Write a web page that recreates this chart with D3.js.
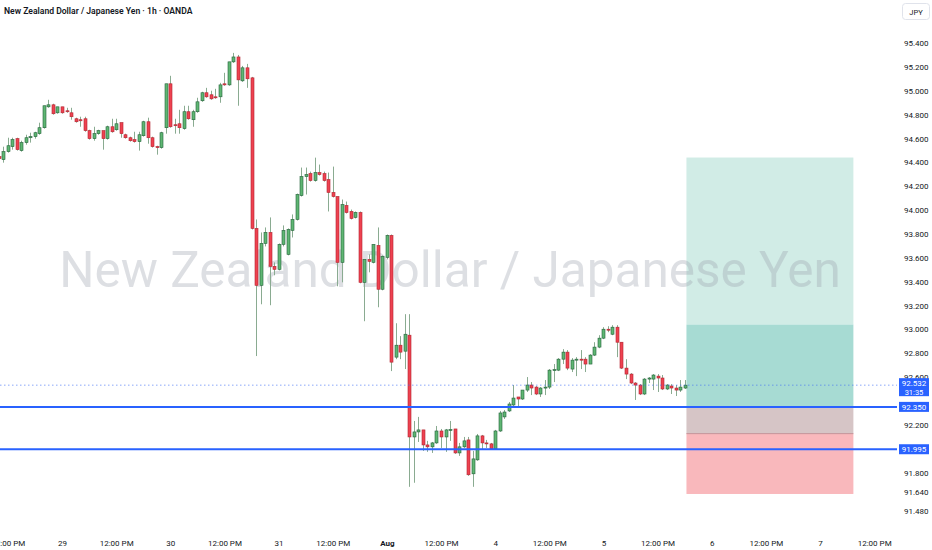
<!DOCTYPE html>
<html>
<head>
<meta charset="utf-8">
<script src="https://cdn.jsdelivr.net/npm/d3@7"></script>
<style>
  body { margin: 0; background: #fff; }
  svg { display: block; font-family: Roboto, "Noto Sans", sans-serif; }
</style>
</head>
<body>
<div id="chart"></div>
<script>
// hourly bars, hour index counted from Jul 28 00:00 (weekend skipped)
const firstHour = 10;

const opens = [
  94.447, 94.422, 94.489, 94.531, 94.598, 94.498, 94.565, 94.606, 94.615, 94.640,
  94.690, 94.865, 94.882, 94.815, 94.865, 94.832, 94.815, 94.765, 94.757, 94.765,
  94.665, 94.598, 94.640, 94.665, 94.598, 94.698, 94.673, 94.732, 94.631, 94.606,
  94.590, 94.573, 94.623, 94.740, 94.606, 94.531, 94.523, 94.690, 95.058, 94.715,
  94.723, 94.682, 94.824, 94.757, 94.824, 94.916, 94.983, 94.966, 94.949, 94.949,
  95.058, 95.049, 95.242, 95.283, 95.083, 95.192, 95.108, 93.846, 93.369, 93.720,
  93.812, 93.528, 93.503, 93.712, 93.628, 93.829, 93.921, 94.121, 94.280, 94.305,
  94.247, 94.314, 94.305, 94.255, 94.147, 94.113, 93.561, 94.038, 93.988, 93.938,
  93.979, 93.394, 93.586, 93.561, 93.703, 93.336, 93.603, 93.787, 92.767, 92.867,
  92.817, 92.951, 92.098, 92.140, 92.157, 92.031, 92.015, 92.048, 92.148, 92.098,
  92.157, 92.165, 91.964, 92.015, 92.073, 91.789, 91.906, 92.107, 92.048, 92.040,
  91.998, 92.148, 92.266, 92.316, 92.366, 92.433, 92.416, 92.491, 92.533, 92.516,
  92.458, 92.508, 92.516, 92.658, 92.658, 92.750, 92.809, 92.667, 92.742, 92.750,
  92.750, 92.709, 92.784, 92.851, 92.926, 93.001, 92.959, 93.018, 92.892, 92.675,
  92.625, 92.550, 92.533, 92.458, 92.583, 92.583, 92.608, 92.592, 92.500, 92.525,
  92.508, 92.491, 92.508
];
const highs = [
  94.464, 94.531, 94.606, 94.606, 94.606, 94.581, 94.631, 94.648, 94.656, 94.732,
  94.874, 94.924, 94.891, 94.865, 94.865, 94.857, 94.857, 94.774, 94.782, 94.782,
  94.673, 94.698, 94.673, 94.665, 94.707, 94.765, 94.765, 94.732, 94.640, 94.615,
  94.656, 94.656, 94.748, 94.774, 94.615, 94.539, 94.656, 95.058, 95.125, 94.765,
  94.840, 94.874, 94.874, 94.840, 94.941, 94.991, 95.024, 95.000, 95.016, 95.066,
  95.150, 95.242, 95.317, 95.300, 95.208, 95.225, 95.116, 93.921, 93.812, 93.854,
  93.938, 93.561, 93.720, 93.871, 93.846, 93.963, 94.138, 94.356, 94.356, 94.322,
  94.439, 94.381, 94.322, 94.314, 94.364, 94.113, 94.088, 94.071, 94.004, 93.988,
  93.988, 93.586, 93.628, 93.712, 93.854, 93.620, 93.795, 93.795, 93.051, 92.943,
  93.127, 93.127, 92.232, 92.266, 92.157, 92.065, 92.056, 92.190, 92.165, 92.165,
  92.232, 92.165, 92.048, 92.098, 92.098, 91.981, 92.123, 92.115, 92.073, 92.048,
  92.157, 92.316, 92.324, 92.391, 92.533, 92.433, 92.491, 92.600, 92.558, 92.525,
  92.516, 92.575, 92.667, 92.709, 92.759, 92.834, 92.826, 92.759, 92.767, 92.826,
  92.767, 92.792, 92.892, 92.951, 93.018, 93.026, 93.035, 93.035, 92.892, 92.750,
  92.633, 92.558, 92.541, 92.592, 92.600, 92.625, 92.625, 92.617, 92.541, 92.541,
  92.533, 92.575, 92.575
];
const lows = [
  94.414, 94.397, 94.481, 94.506, 94.498, 94.489, 94.548, 94.565, 94.598, 94.631,
  94.682, 94.857, 94.799, 94.807, 94.807, 94.815, 94.757, 94.732, 94.698, 94.656,
  94.590, 94.581, 94.631, 94.506, 94.590, 94.648, 94.665, 94.606, 94.598, 94.573,
  94.565, 94.498, 94.615, 94.556, 94.523, 94.464, 94.514, 94.640, 94.690, 94.640,
  94.640, 94.673, 94.757, 94.698, 94.815, 94.907, 94.941, 94.924, 94.932, 94.899,
  95.041, 95.041, 95.233, 94.874, 95.074, 95.024, 93.837, 92.776, 93.210, 93.695,
  93.202, 93.453, 93.494, 93.695, 93.620, 93.770, 93.912, 94.113, 94.130, 94.238,
  94.238, 94.289, 94.238, 93.988, 94.105, 93.361, 93.394, 93.971, 93.921, 93.929,
  93.386, 93.068, 93.478, 93.553, 93.185, 93.327, 93.586, 92.650, 92.750, 92.750,
  92.667, 91.680, 91.714, 92.056, 91.981, 91.973, 91.964, 92.040, 92.006, 91.973,
  92.065, 91.956, 91.939, 92.006, 91.772, 91.680, 91.898, 91.990, 92.006, 91.990,
  91.990, 92.140, 92.249, 92.307, 92.357, 92.349, 92.408, 92.475, 92.449, 92.449,
  92.433, 92.449, 92.500, 92.558, 92.650, 92.709, 92.658, 92.642, 92.608, 92.667,
  92.642, 92.709, 92.776, 92.842, 92.918, 92.976, 92.951, 92.767, 92.667, 92.583,
  92.541, 92.408, 92.449, 92.449, 92.550, 92.491, 92.475, 92.491, 92.491, 92.458,
  92.441, 92.475, 92.500
];
const closes = [
  94.431, 94.489, 94.539, 94.590, 94.506, 94.565, 94.606, 94.615, 94.648, 94.690,
  94.874, 94.882, 94.807, 94.865, 94.815, 94.824, 94.782, 94.740, 94.748, 94.665,
  94.598, 94.640, 94.665, 94.598, 94.698, 94.656, 94.723, 94.640, 94.606, 94.581,
  94.573, 94.631, 94.740, 94.606, 94.531, 94.523, 94.648, 95.058, 94.698, 94.707,
  94.690, 94.824, 94.765, 94.824, 94.907, 94.983, 94.949, 94.932, 94.941, 95.049,
  95.049, 95.242, 95.283, 95.091, 95.192, 95.100, 93.846, 93.369, 93.720, 93.812,
  93.528, 93.503, 93.712, 93.829, 93.837, 93.921, 94.130, 94.280, 94.297, 94.247,
  94.314, 94.297, 94.247, 94.147, 94.113, 93.561, 94.046, 93.979, 93.929, 93.979,
  93.394, 93.586, 93.570, 93.712, 93.336, 93.611, 93.787, 92.725, 92.867, 92.809,
  92.959, 92.098, 92.140, 92.157, 92.031, 92.015, 92.048, 92.148, 92.098, 92.157,
  92.160, 91.964, 92.015, 92.065, 91.781, 91.914, 92.107, 92.048, 92.044, 91.998,
  92.148, 92.299, 92.307, 92.374, 92.424, 92.416, 92.491, 92.533, 92.508, 92.458,
  92.508, 92.516, 92.658, 92.662, 92.750, 92.809, 92.675, 92.742, 92.750, 92.746,
  92.709, 92.784, 92.851, 92.926, 93.001, 92.993, 93.018, 92.892, 92.675, 92.625,
  92.550, 92.533, 92.458, 92.583, 92.592, 92.617, 92.592, 92.500, 92.533, 92.508,
  92.491, 92.516, 92.532
];

// 92.400 and 92.000 sit under the blue price labels, so they are left out
const priceTicks = [95.4, 95.2, 95.0, 94.8, 94.6, 94.4, 94.2, 94.0, 93.8, 93.6,
  93.4, 93.2, 93.0, 92.8, 92.6, 92.2, 91.8, 91.64, 91.48];
const timeTickHours = [12, 24, 36, 48, 60, 72, 84, 96, 108, 120, 132, 144, 156, 168, 180, 192, 204];
const timeTickLabels = ["12:00 PM", "29", "12:00 PM", "30", "12:00 PM", "31", "12:00 PM", "Aug",
  "12:00 PM", "4", "12:00 PM", "5", "12:00 PM", "6", "12:00 PM", "7", "12:00 PM"];

// long position tool: target / overlap / entry / stop levels
const zoneEdges = [94.44, 93.04, 92.35, 92.13, 91.62];
const zoneStartHour = 162.4, zoneEndHour = 199.4;
const levelPrices = [92.35, 91.995];
const lastPrice = 92.532;
const countdown = "31:35";
const title = "New Zealand Dollar / Japanese Yen · 1h · OANDA";
const watermark = "New Zealand Dollar / Japanese Yen";

const W = 932, H = 550, plotRight = 897;

const svg = d3.select("#chart").append("svg")
    .attr("width", W)
    .attr("height", H);

const x = d3.scaleLinear().domain([24, 192]).range([62, 820]);
const y = d3.scaleLinear().domain([91.8, 95.4]).range([472.5, 43]);

svg.append("clipPath").attr("id", "plot")
  .append("rect").attr("x", 0).attr("y", 0).attr("width", plotRight).attr("height", 525);

const plot = svg.append("g").attr("clip-path", "url(#plot)");

// position zones
const zoneColors = ["#d1ece6", "#a7dbd3", "#d6c5c6", "#f9b8bc"];
zoneColors.forEach((c, i) => {
  plot.append("rect")
      .attr("x", x(zoneStartHour))
      .attr("y", y(zoneEdges[i]))
      .attr("width", x(zoneEndHour) - x(zoneStartHour))
      .attr("height", y(zoneEdges[i + 1]) - y(zoneEdges[i]))
      .attr("fill", c);
});
plot.append("line")
    .attr("x1", x(zoneStartHour)).attr("x2", x(zoneEndHour))
    .attr("y1", y(zoneEdges[3]) + 0.5).attr("y2", y(zoneEdges[3]) + 0.5)
    .attr("stroke", "#c0959a");

// watermark, see-through so it shows over the zones
plot.append("text")
    .attr("x", 450)
    .attr("y", 287)
    .attr("text-anchor", "middle")
    .attr("font-size", 49.5)
    .attr("fill", "#9aa0ad")
    .attr("fill-opacity", 0.34)
    .text(watermark);

// candles
const bars = opens.map((o, i) => ({ t: firstHour + i, o: o, h: highs[i], l: lows[i], c: closes[i] }));
const candle = plot.selectAll("g.candle").data(bars).enter().append("g");
candle.append("line")
    .attr("x1", d => Math.round(x(d.t)) + 0.5)
    .attr("x2", d => Math.round(x(d.t)) + 0.5)
    .attr("y1", d => y(d.h))
    .attr("y2", d => y(d.l))
    .attr("stroke", "#8aab91");
candle.append("rect")
    .attr("x", d => Math.round(x(d.t)) - 1)
    .attr("y", d => y(Math.max(d.o, d.c)))
    .attr("width", 3)
    .attr("height", d => Math.max(1, Math.abs(y(d.o) - y(d.c))))
    .attr("fill", d => d.c >= d.o ? "#5fb673" : "#ee4250")
    .attr("stroke", d => d.c >= d.o ? "#23613a" : "#b3232f")
    .attr("stroke-width", 0.6);

// last price dotted line
svg.append("line")
    .attr("x1", 0).attr("x2", plotRight)
    .attr("y1", y(lastPrice)).attr("y2", y(lastPrice))
    .attr("stroke", "#3d6ef5")
    .attr("stroke-opacity", 0.6)
    .attr("stroke-dasharray", "1.5,2.5");

// horizontal levels
levelPrices.forEach(p => {
  svg.append("line")
      .attr("x1", 0).attr("x2", plotRight)
      .attr("y1", y(p)).attr("y2", y(p))
      .attr("stroke", "#2962ff")
      .attr("stroke-width", 2);
});

// price axis
const yAxis = svg.append("g")
    .attr("transform", "translate(902,0)")
    .call(d3.axisRight(y).tickValues(priceTicks).tickFormat(d3.format(".3f")).tickSize(0));
yAxis.select(".domain").remove();
yAxis.selectAll("text")
    .attr("x", 2)
    .attr("font-family", "Roboto, sans-serif")
    .attr("font-size", 8)
    .attr("fill", "#131722");

// time axis
const xAxis = svg.append("g")
    .attr("transform", "translate(0,537)")
    .call(d3.axisBottom(x).tickValues(timeTickHours)
      .tickFormat((d, i) => timeTickLabels[i]).tickSize(0));
xAxis.select(".domain").remove();
xAxis.selectAll("text")
    .attr("font-family", "Roboto, sans-serif")
    .attr("font-size", 8)
    .attr("fill", "#131722")
    .attr("font-weight", (d, i) => timeTickLabels[i] === "Aug" ? "bold" : "normal");

// price labels on the axis
const lastY = y(lastPrice);
svg.append("rect")
    .attr("x", 899).attr("y", lastY - 7)
    .attr("width", 30).attr("height", 18)
    .attr("fill", "#2962ff");
svg.append("text")
    .attr("x", 914).attr("y", lastY + 1)
    .attr("text-anchor", "middle")
    .attr("font-size", 8).attr("fill", "#fff")
    .text(lastPrice.toFixed(3));
svg.append("text")
    .attr("x", 914).attr("y", lastY + 9.5)
    .attr("text-anchor", "middle")
    .attr("font-size", 7.5).attr("fill", "#fff")
    .text(countdown);

levelPrices.forEach(p => {
  svg.append("rect")
      .attr("x", 899).attr("y", y(p) - 5)
      .attr("width", 30).attr("height", 10)
      .attr("fill", "#2962ff");
  svg.append("text")
      .attr("x", 914).attr("y", y(p) + 3)
      .attr("text-anchor", "middle")
      .attr("font-size", 8).attr("fill", "#fff")
      .text(p.toFixed(3));
});

// title and currency button
svg.append("text")
    .attr("x", 4).attr("y", 14)
    .attr("font-size", 8.6)
    .attr("font-weight", 600)
    .attr("fill", "#131722")
    .text(title);

svg.append("rect")
    .attr("x", 902.5).attr("y", 3.5)
    .attr("width", 27).attr("height", 16)
    .attr("rx", 3)
    .attr("fill", "#fff")
    .attr("stroke", "#e0e3eb");
svg.append("text")
    .attr("x", 916).attr("y", 14.5)
    .attr("text-anchor", "middle")
    .attr("font-size", 7.5)
    .attr("fill", "#131722")
    .text("JPY");
</script>
</body>
</html>
